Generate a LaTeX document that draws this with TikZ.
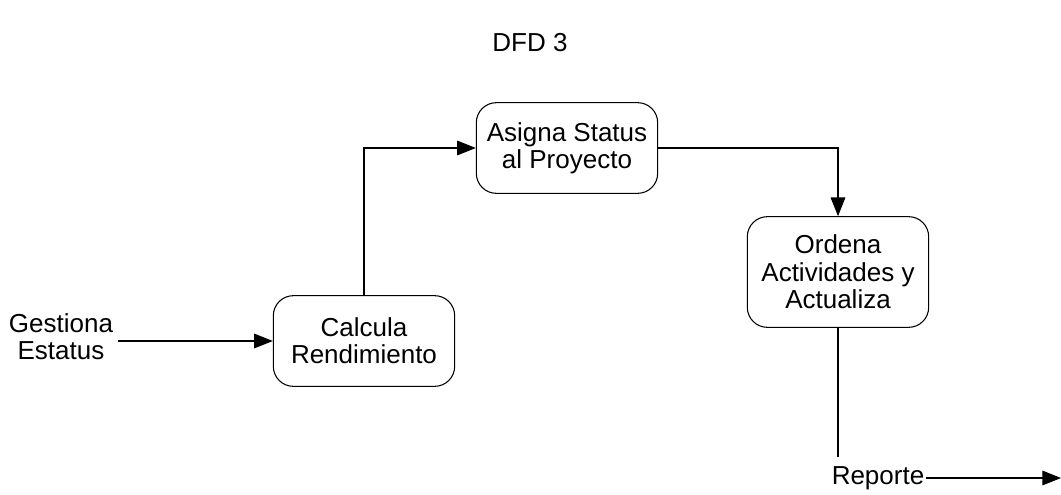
\documentclass[tikz,border=0pt]{standalone}
\usepackage{fontspec}
\setmainfont{Liberation Sans}
\usepackage{tikz}
\usetikzlibrary{arrows.meta, positioning}

\begin{document}
\begin{tikzpicture}[
    x=0.75pt, y=-0.75pt,
    procbox/.style={rectangle, rounded corners=15pt, draw=black, line width=0.8pt,
                    minimum width=136pt, minimum height=68pt, align=center,
                    font=\fontsize{19.5}{20.5}\selectfont, inner sep=2pt},
    lbl/.style={align=center, font=\fontsize{19.5}{20.5}\selectfont, inner sep=1pt},
    flow/.style={draw=black, line width=0.8pt,
                 -{Triangle[length=14pt, width=11pt]}},
]
  \useasboundingbox (0,0) rectangle (1061,494);

  % ---- title ----
  \node[lbl] (title) at (530, 43) {DFD 3};

  % ---- processes ----
  \node[procbox] (calcula) at (364, 341) {Calcula\\Rendimiento};
  \node[procbox] (asigna)  at (567, 148) {Asigna Status\\al Proyecto};
  \node[procbox, minimum height=83pt] (ordena) at (838, 272)
       {Ordena\\Actividades y\\Actualiza};

  % ---- external flows ----
  \node[lbl] (gestiona) at (61, 337) {Gestiona\\Estatus};
  \node[lbl] (reporte)  at (878, 478) {Reporte};
  \coordinate (salida) at (1061, 478);

  % ---- connectors ----
  \draw[flow] (gestiona.east |- calcula.west) ++(3,0) -- (calcula.west);
  \draw[flow] (calcula.north) |- (asigna.west);
  \draw[flow] (asigna.east) -| (ordena.north);
  \draw[line width=0.8pt, shorten >=6pt] (ordena.south) -- (ordena.south |- reporte.north);
  \draw[flow] (reporte.east) -- (salida);
\end{tikzpicture}
\end{document}
